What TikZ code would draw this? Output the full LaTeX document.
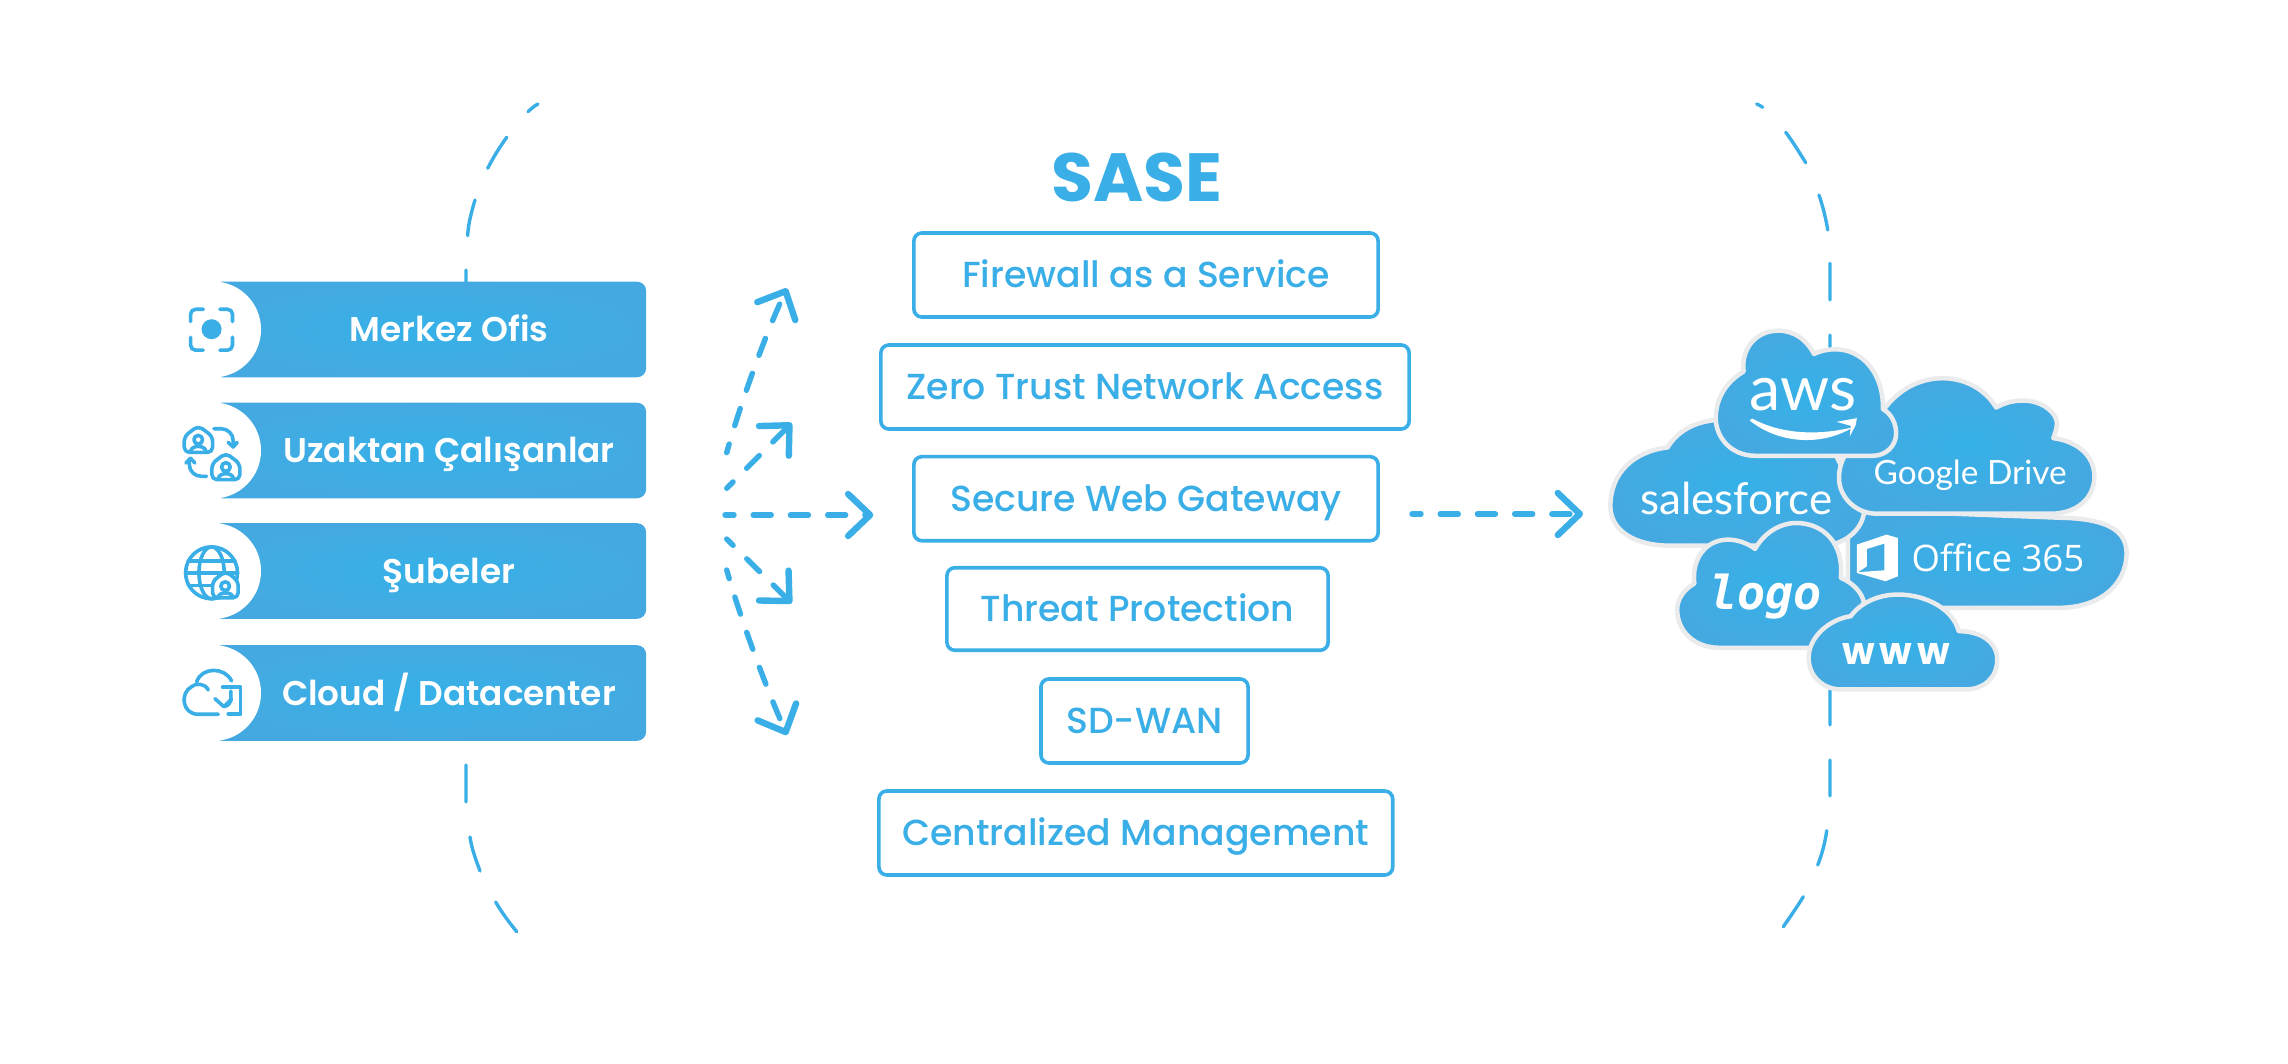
\documentclass[tikz,border=0pt]{standalone}
\usepackage{fontspec}
\usepackage{graphicx}
\usetikzlibrary{arrows.meta}
\setmainfont{Poppins}
\IfFontExistsTF{Poppins Medium}{\newfontfamily\popm{Poppins Medium}}{\newfontfamily\popm{Poppins}}
\IfFontExistsTF{Poppins SemiBold}{\newfontfamily\pops{Poppins SemiBold}}{\newfontfamily\pops[UprightFont=*-Bold]{Poppins}}
\newfontfamily\popb{Poppins}[UprightFont={* Bold}]
\newfontfamily\lato{Lato}
\newfontfamily\osans{Open Sans}
\newfontfamily\dvm{DejaVu Sans Mono}
\definecolor{sky}{HTML}{3AAEE6}
\definecolor{skyin}{HTML}{35B1E8}
\definecolor{skyout}{HTML}{45A9E1}
\definecolor{cloudedge}{HTML}{E9EBEC}
\newcommand{\pxu}{0.28453pt}
\tikzset{
  svc/.style 2 args={draw=sky,line width=3.6*\pxu,rounded corners=8*\pxu,fill=white,minimum width=#1*\pxu,minimum height=#2*\pxu,inner sep=0pt,text=sky,font={\popm\fontsize{10.3}{12}\selectfont},text height=7pt,text depth=0pt},
  barbox/.style={inner color=skyin,outer color=skyout,rounded corners=9*\pxu,minimum width=433*\pxu,minimum height=95.5*\pxu,inner sep=0pt},
  barlabel/.style={text=white,inner sep=0pt,font={\pops\fontsize{9.75}{11}\selectfont},text height=7.1pt,text depth=0pt},
  hole/.style={circle,fill=white,minimum size=96*\pxu,inner sep=0pt},
  orbit/.style={draw=sky,line width=3.4*\pxu,line cap=round},
  flow/.style={draw=sky,line width=5.4*\pxu,line cap=round,dash pattern=on 18*\pxu off 19.2*\pxu,dash phase=9*\pxu,-{Straight Barb[length=22*\pxu,width=42*\pxu,line width=6.4*\pxu,round]}},
  cloudshape/.style={inner color=skyin,outer color=skyout,draw=cloudedge,line width=4.5*\pxu,line join=round},
  iconline/.style={draw=sky,line width=3.6*\pxu,line cap=round,line join=round},
  cloudtext/.style={text=white,inner sep=0pt},
}
\begin{document}
\begin{tikzpicture}[x=0.01cm,y=-0.01cm]
\useasboundingbox (0,0) rectangle (2288,1064);
% big dashed arcs
\draw[orbit] (466,270)--(466,285)
 (475,200) .. controls (470.5,215) and (468,226) .. (467.7,235.7)
 (506.7,137.3) .. controls (499,148) and (493,158) .. (487.7,168.3)
 (538,104) .. controls (534,106) and (531,109) .. (528,111.7)
 (466,765)--(466,802)
 (470,837) .. controls (472,850) and (476,860) .. (480,871)
 (495.7,902) .. controls (502,913) and (509,922) .. (516.7,931.7)
 (1756.7,104) .. controls (1759,105) and (1761,106) .. (1762.7,107.3)
 (1785.7,132.3) .. controls (1793,142) and (1799,152) .. (1805.7,162.7)
 (1819,195) .. controls (1823,207) and (1826,219) .. (1827.7,230)
 (1830,263.3)--(1830,300)
 (1830,335)--(1830,350)
 (1830,690)--(1830,725)
 (1830,760)--(1830,796)
 (1826.7,830.7) .. controls (1825,843) and (1822,854) .. (1817.7,865)
 (1803.3,896.7) .. controls (1797,907) and (1790,917) .. (1783.3,926.7);
% left bars
\foreach \nm/\yy/\tt in {merkez/329.5/{Merkez Ofis},uzak/450.5/{Uzaktan Çalışanlar},sube/571/{Şubeler},cloudb/693/{Cloud / Datacenter}}{
  \node[barbox] (\nm) at (429.5,\yy) {};
  \node[hole] (\nm h) at (213,\yy) {};
  \node[barlabel] (\nm t) at (449,\yy) {\tt};
}
% icons, in crop coordinates
\begin{scope}[shift={(150,260)},x=0.00333cm,y=-0.00333cm]
 \fill[sky] (185,208) circle (30);
 \draw[iconline,rounded corners=5*\pxu]
   (122,185)--(122,148)--(160,148) (210,148)--(248,148)--(248,185)
   (122,232)--(122,271)--(160,271) (210,271)--(248,271)--(248,232);
 % remote workers
 \draw[iconline,rounded corners=5*\pxu] (103,578)--(103,530)--(145,498)--(188,530)--(188,578)--cycle;
 \draw[iconline] (145,540) circle (13);
 \draw[iconline] (122,575) .. controls (125,555) and (165,555) .. (168,575);
 \draw[iconline,rounded corners=12*\pxu] (192,507)--(250,507)--(250,560);
 \draw[iconline] (235,548)--(250,562)--(262,548);
 \draw[iconline,rounded corners=5*\pxu] (186,660)--(186,612)--(228,580)--(270,612)--(270,660)--cycle;
 \draw[iconline] (228,622) circle (13);
 \draw[iconline] (205,657) .. controls (208,637) and (248,637) .. (251,657);
 \draw[iconline,rounded corners=12*\pxu] (170,650)--(118,650)--(118,598);
 \draw[iconline] (108,610)--(122,596)--(135,610);
 % branches
 \draw[iconline] (185,940) circle (78);
 \draw[iconline] (185,940) ellipse (38 and 78);
 \draw[iconline] (115,905)--(255,905) (107,940)--(263,940) (115,978)--(190,978);
 \draw[iconline,fill=white,rounded corners=5*\pxu] (188,1015)--(188,965)--(228,935)--(265,965)--(265,1015)--cycle;
 \draw[iconline] (226,980) circle (13);
 \draw[iconline] (205,1013) .. controls (208,996) and (246,996) .. (249,1013);
 % cloud datacenter
 \draw[iconline] (140,1268) .. controls (155,1222) and (225,1222) .. (245,1265);
 \draw[iconline] (175,1292) .. controls (165,1270) and (135,1272) .. (125,1282) .. controls (90,1300) and (95,1365) .. (145,1365)--(205,1365);
 \draw[iconline] (218,1283)--(272,1283)--(272,1365)--(235,1365);
 \draw[iconline] (243,1295)--(243,1318) .. controls (243,1330) and (235,1340) .. (222,1342);
 \draw[iconline] (195,1318)--(222,1342)--(245,1320);
\end{scope}
% centre
\node[text=sky,inner sep=0pt,font={\popb\fontsize{19.4}{22}\selectfont},text height=13.7pt,text depth=0pt] (sase) at (1137,177.5) {SASE};
\node[svc={464}{84}] (fw) at (1146,275) {Firewall as a Service};
\node[svc={528}{84}] (zt) at (1145,387) {Zero Trust Network Access};
\node[svc={464}{84}] (swg) at (1146,498.7) {Secure Web Gateway};
\node[svc={381}{82.5}] (tp) at (1137.5,609) {Threat Protection};
\node[svc={207}{84}] (sd) at (1144.5,721) {SD-WAN};
\node[svc={513.5}{84}] (cm) at (1135.8,833) {Centralized Management};
% fan arrows
\coordinate (f1) at (726.7,452.7);
\coordinate (f2) at (726.7,488.3);
\coordinate (f3) at (725,515);
\coordinate (f4) at (726.7,539);
\coordinate (f5) at (726.7,570);
\coordinate (t1) at (787,288.3);
\coordinate (t2) at (791.7,423);
\coordinate (t3) at (873.3,515);
\coordinate (t4) at (791.7,603.3);
\coordinate (t5) at (787,735);
\coordinate (r1) at (1412,514);
\coordinate (r2) at (1583,514);
\draw[flow] (f1) .. controls (740,405) and (765,335) .. (t1);
\draw[flow] (f2) -- (t2);
\draw[flow] (f3) -- (t3);
\draw[flow] (f4) -- (t4);
\draw[flow] (f5) .. controls (740,617) and (765,685) .. (t5);
\draw[flow] (r1) -- (r2);
% clouds in crop coordinates
\begin{scope}[shift={(1580,310)},x=0.003571cm,y=-0.003333cm]
 \path[cloudshape] (750,600) -- (1365,625) .. controls (1470,630) and (1530,660) .. (1530,730) .. controls (1530,830) and (1450,895) .. (1340,895) -- (750,895) -- cycle;
 \path[cloudshape] (250,708) .. controls (150,708) and (85,660) .. (85,590) .. controls (85,490) and (150,425) .. (245,413) .. controls (275,360) and (330,330) .. (400,330) -- (700,400) -- (795,610) .. controls (790,650) and (760,685) .. (720,700) -- (650,708) -- cycle;
 \path[cloudshape] (850,300) .. controls (890,240) and (950,205) .. (1015,205) .. controls (1080,205) and (1135,240) .. (1165,293) .. controls (1190,278) and (1215,272) .. (1240,272) .. controls (1295,272) and (1335,310) .. (1335,340) .. controls (1335,355) and (1330,370) .. (1325,385) .. controls (1395,395) and (1440,440) .. (1440,500) .. controls (1440,570) and (1385,612) .. (1320,612) -- (830,612) .. controls (770,612) and (725,560) .. (725,505) .. controls (725,480) and (730,460) .. (740,440) -- cycle;
 \path[cloudshape] (490,438) .. controls (425,438) and (380,385) .. (380,325) .. controls (380,265) and (410,215) .. (458,185) .. controls (450,120) and (490,62) .. (555,62) .. controls (600,62) and (635,90) .. (655,132) .. controls (675,122) and (695,118) .. (715,118) .. controls (790,118) and (850,190) .. (848,298) .. controls (870,310) and (885,340) .. (885,370) .. controls (885,410) and (855,438) .. (820,438) -- cycle;
 \path[cloudshape] (390,1015) .. controls (320,1015) and (272,965) .. (272,900) .. controls (272,870) and (290,840) .. (320,822) .. controls (312,750) and (350,690) .. (415,690) .. controls (440,690) and (468,700) .. (490,718) .. controls (515,670) and (560,640) .. (605,640) .. controls (680,640) and (740,700) .. (730,805) .. controls (765,820) and (790,850) .. (795,880) -- (700,1015) -- cycle;
 \path[cloudshape] (730,1140) .. controls (680,1140) and (640,1100) .. (640,1045) .. controls (640,985) and (695,930) .. (758,920) .. controls (785,880) and (835,855) .. (890,855) .. controls (970,855) and (1045,900) .. (1060,965) .. controls (1125,965) and (1168,1000) .. (1168,1050) .. controls (1168,1105) and (1130,1140) .. (1080,1140) -- cycle;
 % aws swoosh
 \fill[white] (475,332) .. controls (560,405) and (680,408) .. (765,352) .. controls (680,375) and (570,378) .. (482,326) -- cycle;
 \fill[white] (718,336) -- (775,325) -- (772,345) -- (755,380) -- (758,348) -- cycle;
 % office mark
 \fill[white,even odd rule] (775,705) -- (858,675) -- (890,685) -- (890,800) -- (855,815) -- (775,790) -- cycle
   (803,718) -- (852,702) -- (852,782) -- (778,788) -- (803,770) -- cycle;
 \node[cloudtext,font={\lato\fontsize{17.8}{22}\selectfont}] (awst) at (625,255) {aws};
 \node[cloudtext,font={\lato\fontsize{12.5}{15}\selectfont}] (sft) at (438,565) {salesforce};
 \node[cloudtext,font={\lato\fontsize{9.5}{12}\selectfont}] (gdt) at (1092,497) {Google Drive};
 \node[cloudtext,font={\osans\fontsize{10.4}{12}\selectfont}] (ot) at (1170,745) {Office 365};
 \node[cloudtext,font={\dvm\bfseries\itshape\fontsize{13.3}{18}\selectfont}] (lt) at (520,860) {logo};
 \node[cloudtext,font={\popb\fontsize{10.7}{14}\addfontfeature{LetterSpace=14}\selectfont}] (wt) at (885,1035) {www};
\end{scope}
\end{tikzpicture}
\end{document}
